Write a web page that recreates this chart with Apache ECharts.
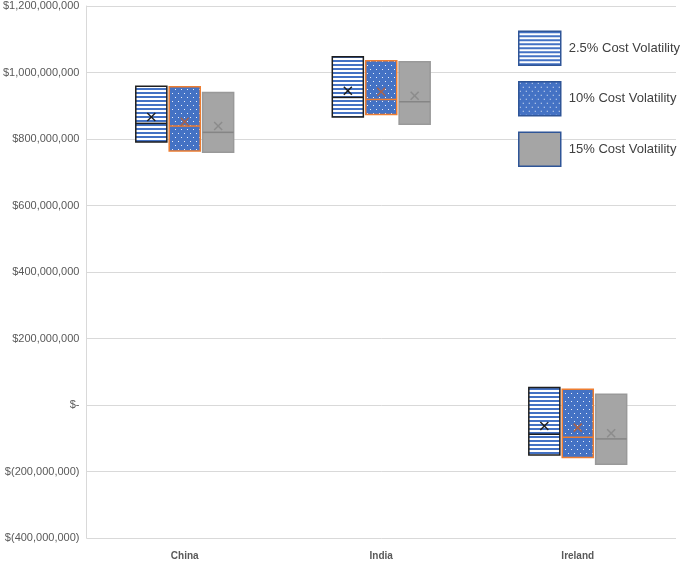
<!DOCTYPE html>
<html><head><meta charset="utf-8">
<script src="https://cdn.jsdelivr.net/npm/echarts@6/dist/echarts.min.js"></script>
<style>html,body{margin:0;padding:0;background:#fff}#c{width:685px;height:562px}</style>
</head><body><div id="c"></div>
<script>
const categories = ['China', 'India', 'Ireland'];
const seriesNames = ['2.5% Cost Volatility', '10% Cost Volatility', '15% Cost Volatility'];
// box bottom, box top, median, mean (USD)
const vol25Low    = [791e6, 866e6, -150e6];
const vol25High   = [959e6, 1047e6, 53e6];
const vol25Median = [847e6, 925e6, -88e6];
const vol25Mean   = [866e6, 945e6, -63e6];

const vol10Low    = [764e6, 874e6, -158e6];
const vol10High   = [957e6, 1035e6, 47e6];
const vol10Median = [839e6, 919e6, -97e6];
const vol10Mean   = [852e6, 942e6, -68e6];

const vol15Low    = [760e6, 844e6, -178e6];
const vol15High   = [940e6, 1032e6, 32e6];
const vol15Median = [820e6, 912e6, -102e6];
const vol15Mean   = [839e6, 930e6, -85e6];

const yMin = -400e6, yMax = 1200e6, yStep = 200e6;

function fmtNum(n) {
  return String(Math.round(n)).replace(/\B(?=(\d{3})+(?!\d))/g, ',');
}
function fmtMoney(v) {
  if (v === 0) return '$-';
  if (v < 0) return '$(' + fmtNum(-v) + ')';
  return '$' + fmtNum(v);
}

function stripeCanvas() {
  const c = document.createElement('canvas');
  c.width = 4; c.height = 4;
  const g = c.getContext('2d');
  g.fillStyle = '#ffffff'; g.fillRect(0, 0, 4, 4);
  g.fillStyle = '#4472C4'; g.fillRect(0, 0, 4, 2);
  return c;
}
function dotCanvas() {
  const c = document.createElement('canvas');
  c.width = 6; c.height = 8;
  const g = c.getContext('2d');
  g.fillStyle = '#4472C4'; g.fillRect(0, 0, 6, 8);
  g.fillStyle = '#E8EEF8';
  g.fillRect(1, 1, 1, 1);
  g.fillRect(4, 5, 1, 1);
  return c;
}
const stripeFill = { image: stripeCanvas(), repeat: 'repeat' };
const dotFill = { image: dotCanvas(), repeat: 'repeat' };

const styles = [
  { fill: stripeFill, border: '#1E1E1E', median: '#1E1E1E', mean: '#1E1E1E' },
  { fill: dotFill, border: '#ED7D31', median: '#ED7D31', mean: '#A8624A' },
  { fill: '#A5A5A5', border: '#999999', median: '#858585', mean: '#8C8C8C' }
];
const seriesData = [
  [vol25Low, vol25High, vol25Median, vol25Mean],
  [vol10Low, vol10High, vol10Median, vol10Mean],
  [vol15Low, vol15High, vol15Median, vol15Mean]
];

function makeRender(si) {
  return function (params, api) {
    const cat = api.value(0);
    const bw = api.size([1, 0])[0];
    const cx = api.coord([cat, 0])[0] + (si - 1) * bw * 0.17;
    const w = bw * 0.158;
    const yLow = api.coord([cat, api.value(1)])[1];
    const yHigh = api.coord([cat, api.value(2)])[1];
    const yMed = api.coord([cat, api.value(3)])[1];
    const yMean = api.coord([cat, api.value(4)])[1];
    const st = styles[si];
    const x0 = cx - w / 2;
    const m = 4;
    return {
      type: 'group',
      children: [
        { type: 'rect', shape: { x: x0, y: yHigh, width: w, height: yLow - yHigh },
          style: { fill: st.fill, stroke: st.border, lineWidth: 1.5 } },
        { type: 'line', shape: { x1: x0, y1: yMed, x2: x0 + w, y2: yMed },
          style: { stroke: st.median, lineWidth: 1.5 } },
        { type: 'line', shape: { x1: cx - m, y1: yMean - m, x2: cx + m, y2: yMean + m },
          style: { stroke: st.mean, lineWidth: 1.5 } },
        { type: 'line', shape: { x1: cx - m, y1: yMean + m, x2: cx + m, y2: yMean - m },
          style: { stroke: st.mean, lineWidth: 1.5 } }
      ]
    };
  };
}

const series = seriesNames.map((name, si) => ({
  name: name,
  type: 'custom',
  renderItem: makeRender(si),
  itemStyle: { color: styles[si].fill },
  encode: { x: 0, y: [1, 2, 3, 4] },
  data: categories.map((c, i) => [i,
    seriesData[si][0][i], seriesData[si][1][i], seriesData[si][2][i], seriesData[si][3][i]])
}));

const chart = echarts.init(document.getElementById('c'), null, { renderer: 'canvas' });
chart.setOption({
  animation: false,
  backgroundColor: '#ffffff',
  grid: { left: 86, right: 9, top: 6, bottom: 24, containLabel: false },
  legend: {
    orient: 'vertical',
    left: 518, top: 30.5,
    itemWidth: 42, itemHeight: 34, itemGap: 15,
    padding: 0,
    textStyle: { fontFamily: 'Liberation Sans', fontSize: 13, color: '#404040', padding: [0, 0, 0, 3] },
    data: seriesNames.map((n, si) => ({
      name: n, icon: 'rect',
      itemStyle: { color: styles[si].fill, borderColor: '#2F5597', borderWidth: 1.5 }
    }))
  },
  xAxis: {
    type: 'category',
    data: categories,
    axisLine: { show: false },
    axisTick: { show: false },
    axisLabel: { fontFamily: 'Liberation Sans', fontSize: 10, fontWeight: 'bold', color: '#595959', margin: 13 },
    splitLine: { show: false }
  },
  yAxis: {
    type: 'value',
    min: yMin, max: yMax, interval: yStep,
    axisLine: { show: true, lineStyle: { color: '#D9D9D9', width: 1 } },
    axisTick: { show: false },
    axisLabel: { fontFamily: 'Liberation Sans', fontSize: 11, color: '#595959', margin: 7, formatter: fmtMoney },
    splitLine: { lineStyle: { color: '#D9D9D9', width: 1 } }
  },
  series: series
});
</script>
</body></html>
